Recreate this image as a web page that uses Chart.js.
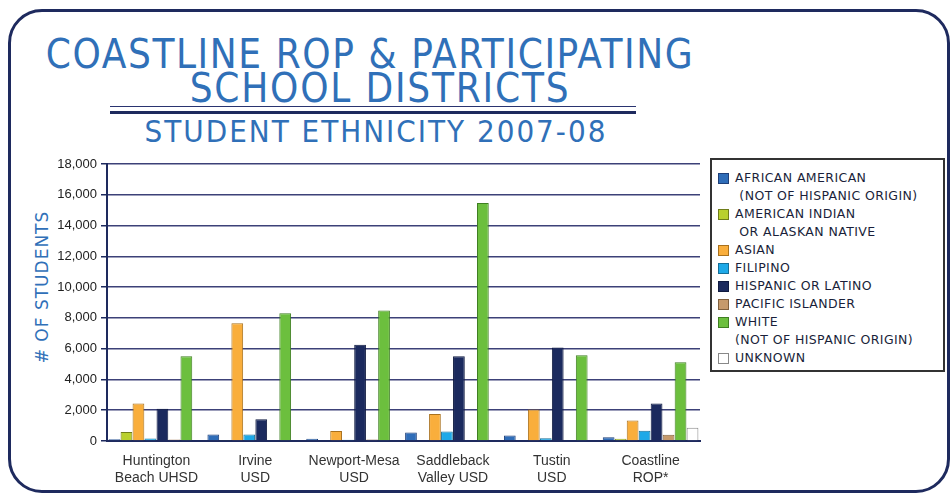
<!DOCTYPE html>
<html>
<head>
<meta charset="utf-8">
<script src="https://cdn.jsdelivr.net/npm/chart.js@4.4.0/dist/chart.umd.min.js"></script>
<style>
body{margin:0;width:952px;height:494px;overflow:hidden;background:#fff;position:relative;font-family:"Liberation Sans",Arial,sans-serif}
.frame{position:absolute;left:8px;top:9px;width:936px;height:478px;border:3px solid #1e2a5e;border-radius:34px}
.t{position:absolute;left:0;width:740px;text-align:center;color:#3070b8;font-family:"DejaVu Sans Condensed","DejaVu Sans",sans-serif;white-space:nowrap;line-height:1}
#t1{top:34px;font-size:40px;letter-spacing:1.6px}
#t2{top:68px;left:10px;font-size:40px;letter-spacing:1.8px}
#t3{top:116px;left:6px;font-size:31px;letter-spacing:2px}
.rule1{position:absolute;left:110px;top:106px;width:526px;height:0;border-top:1.5px solid #2a3470}
.rule2{position:absolute;left:110px;top:111px;width:526px;height:0;border-top:3px solid #1e2a5e}
#ytitle{position:absolute;left:42px;top:287px;transform:translate(-50%,-50%) rotate(-90deg);color:#3070b8;font-family:"DejaVu Sans",sans-serif;font-size:17px;letter-spacing:1px;white-space:nowrap}
#wrap{position:absolute;left:0;top:150px;width:705px;height:344px}
#legend{position:absolute;left:710px;top:158px;width:231px;height:210px;border:2px solid #333;box-sizing:content-box}
.li{position:absolute;left:6px;font-family:"DejaVu Sans",sans-serif;font-size:12.5px;letter-spacing:0.4px;color:#1a1f3a;white-space:pre;line-height:17.5px}
.sw{position:absolute;left:0;top:4px;width:9px;height:9px;border:1px solid #333}
.lt{position:absolute;left:17px;top:0}
</style>
</head>
<body>
<div class="frame"></div>
<div class="t" id="t1">COASTLINE ROP &amp; PARTICIPATING</div>
<div class="t" id="t2">SCHOOL DISTRICTS</div>
<div class="rule1"></div>
<div class="rule2"></div>
<div class="t" id="t3">STUDENT ETHNICITY 2007-08</div>
<div id="ytitle"># OF STUDENTS</div>
<div id="wrap"><canvas id="myChart"></canvas></div>
<div id="legend"></div>
<script>
var districts=[['Huntington','Beach UHSD'],['Irvine','USD'],['Newport-Mesa','USD'],['Saddleback','Valley USD'],['Tustin','USD'],['Coastline','ROP*']];
var ethnicities=['AFRICAN AMERICAN\n (NOT OF HISPANIC ORIGIN)','AMERICAN INDIAN\n OR ALASKAN NATIVE','ASIAN','FILIPINO','HISPANIC OR LATINO','PACIFIC ISLANDER','WHITE\n(NOT OF HISPANIC ORIGIN)','UNKNOWN'];
var africanAmerican=[120,420,150,550,350,250];
var americanIndian=[580,60,50,50,50,140];
var asian=[2430,7650,650,1760,2050,1340];
var filipino=[170,430,80,610,180,670];
var hispanic=[2100,1420,6250,5500,6080,2430];
var pacificIslander=[100,50,90,50,50,400];
var white=[5510,8300,8480,15470,5580,5120];
var unknown=[0,0,0,0,0,860];
var yTicks=[0,2000,4000,6000,8000,10000,12000,14000,16000,18000];

var fills=['#2f6db8','#b9d02e','#f9ae3c','#1ea9e8','#1b2a5e','#c69a6c','#6cbf3e','#ffffff'];
var borders=['#1e3f78','#6f7d1a','#a9711d','#156f98','#0f1a40','#80603f','#3f7f22','#888888'];
var series=[africanAmerican,americanIndian,asian,filipino,hispanic,pacificIslander,white,unknown];

var datasets=series.map(function(d,i){
    return {label:ethnicities[i],data:d,backgroundColor:fills[i],borderColor:borders[i],borderWidth:1,
        categoryPercentage:0.97,barPercentage:0.98};
});

const ctx=document.getElementById('myChart').getContext('2d');
const myChart=new Chart(ctx,{
    type:'bar',
    data:{labels:districts,datasets:datasets},
    options:{
        responsive:true,
        maintainAspectRatio:false,
        animation:false,
        layout:{padding:{left:0,right:5,top:14,bottom:3}},
        plugins:{legend:{display:false},tooltip:{enabled:false}},
        scales:{
            x:{
                grid:{display:false},
                border:{display:true,color:'#1e2a5e',width:2},
                ticks:{color:'#333',font:{family:'Liberation Sans',size:14},padding:4,maxRotation:0,autoSkip:false},
                afterFit:function(s){s.height=50;}
            },
            y:{
                min:0,max:18000,
                ticks:{stepSize:1000,color:'#222',font:{family:'Liberation Sans',size:13},padding:4,
                    callback:function(v){return yTicks.indexOf(v)>=0?v.toLocaleString('en-US'):'';}},
                grid:{
                    color:function(c){return yTicks.indexOf(c.tick.value)>=0?'#3c4178':'#b9b9cc';},
                    lineWidth:function(c){return yTicks.indexOf(c.tick.value)>=0?1.5:1;},
                    tickColor:function(c){return yTicks.indexOf(c.tick.value)>=0?'#1e2a5e':'rgba(0,0,0,0)';},
                    tickLength:6
                },
                border:{display:true,color:'#1e2a5e',width:2},
                afterFit:function(s){s.width=107;}
            }
        }
    }
});

// legend built from the datasets
var lg=document.getElementById('legend');
var tops=[9,45,81,99,117,135,153,189];
myChart.data.datasets.forEach(function(ds,i){
    var el=document.createElement('div');
    el.className='li';
    el.style.top=tops[i]+'px';
    el.innerHTML='<div class="sw" style="background:'+ds.backgroundColor+';border-color:'+ds.borderColor+'"></div>';
    var t=document.createElement('div');
    t.className='lt';
    t.textContent=ds.label;
    el.appendChild(t);
    lg.appendChild(el);
});
</script>
</body>
</html>
